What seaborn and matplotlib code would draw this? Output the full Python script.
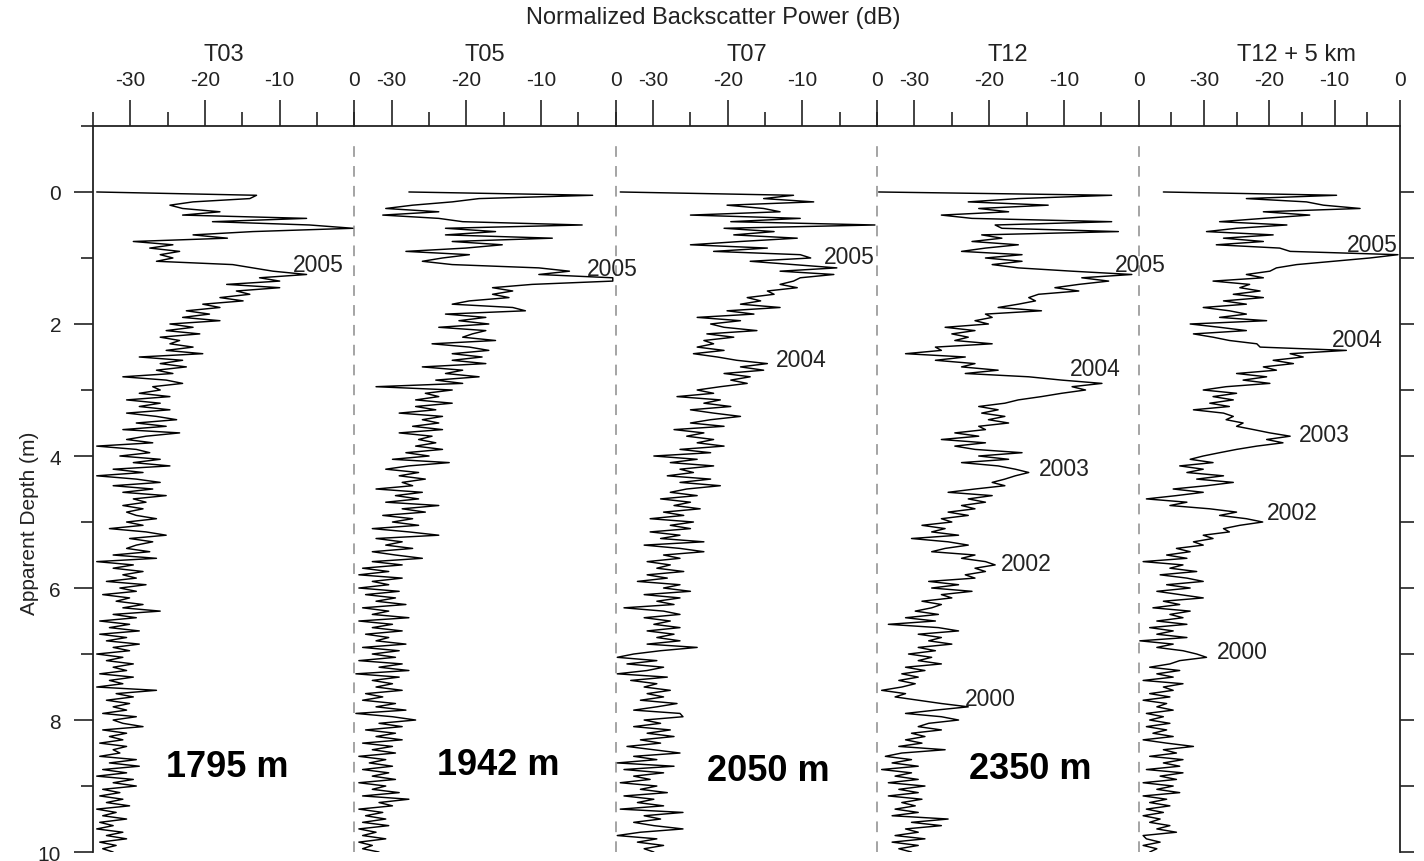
import numpy as np
import pandas as pd
import seaborn as sns
import matplotlib.pyplot as plt

sns.set_style("ticks")
plt.rcParams["font.family"] = ["Liberation Sans", "DejaVu Sans"]
plt.rcParams["axes.unicode_minus"] = False

# depth samples (m), shared by all five profiles
depth = np.round(np.arange(0, 10.001, 0.05), 2)

# normalized backscatter power (dB), one value per depth sample
t03 = [
    -34.5, -13.1, -14.0, -21.6, -24.7, -23.0, -18.0, -23.0, -6.4, -19.0, -6.0, -0.2, -13.6, -21.6, -17.0, -29.6, -24.3, -27.4, -23.4, -26.0,
    -24.3, -26.5, -16.3, -13.6, -10.9, -6.4, -12.7, -10.0, -17.1, -10.0, -15.8, -14.0, -18.0, -14.9, -20.3, -18.0, -22.5, -19.4, -23.0, -18.0,
    -24.7, -21.6, -25.2, -20.7, -26.0, -23.4, -24.7, -21.6, -25.2, -20.3, -28.8, -23.0, -26.0, -22.5, -26.5, -24.3, -31.0, -25.2, -23.0, -27.0,
    -26.0, -28.8, -24.7, -30.5, -26.0, -28.8, -24.7, -30.5, -26.5, -23.8, -29.2, -25.2, -31.0, -23.4, -27.9, -30.5, -27.0, -34.5, -29.2, -27.4,
    -31.4, -26.0, -29.6, -24.7, -32.3, -28.3, -34.5, -29.2, -26.0, -32.3, -27.0, -31.0, -25.2, -29.6, -27.9, -31.0, -28.3, -30.5, -29.2, -26.5,
    -30.5, -28.3, -32.8, -27.9, -25.2, -30.1, -27.0, -29.2, -30.5, -27.4, -32.3, -26.5, -34.5, -29.6, -32.3, -28.3, -31.0, -29.2, -33.2, -27.9,
    -31.4, -29.2, -33.7, -30.1, -31.9, -28.3, -31.0, -26.0, -32.3, -29.2, -34.1, -30.1, -32.8, -28.8, -34.1, -30.5, -33.2, -28.8, -32.3, -30.1,
    -34.5, -31.0, -33.2, -29.6, -32.3, -30.5, -34.1, -29.6, -32.8, -31.0, -34.5, -26.5, -31.9, -29.6, -33.2, -30.1, -32.3, -30.5, -33.7, -29.2,
    -32.3, -31.0, -28.3, -33.7, -30.5, -32.8, -31.0, -34.1, -30.5, -32.3, -31.4, -34.1, -29.2, -32.8, -28.8, -33.7, -30.5, -34.5, -29.6, -32.3,
    -29.2, -33.7, -31.4, -34.1, -31.0, -33.2, -30.1, -34.5, -31.9, -33.7, -30.5, -34.1, -32.3, -34.5, -31.0, -33.2, -30.5, -34.1, -31.9, -33.7, -32.3,
]
t05 = [
    -27.7, -3.1, -18.3, -21.9, -27.2, -30.8, -23.7, -31.2, -23.7, -20.5, -4.5, -22.8, -16.1, -22.8, -8.5, -21.9, -15.2, -20.1, -28.1, -19.6,
    -23.2, -25.9, -21.9, -10.3, -6.2, -10.3, -0.4, -0.4, -11.2, -16.5, -13.8, -16.5, -14.3, -19.6, -21.9, -13.8, -12.1, -22.8, -17.4, -21.0,
    -17.0, -23.7, -17.4, -19.2, -20.5, -16.1, -24.6, -19.6, -17.0, -21.9, -17.9, -21.9, -17.4, -25.9, -20.5, -22.8, -18.3, -24.1, -20.5, -32.1,
    -21.9, -25.5, -23.7, -26.8, -21.9, -26.8, -24.1, -29.0, -23.2, -25.9, -23.7, -27.2, -23.2, -29.0, -24.6, -26.4, -24.1, -26.8, -23.2, -28.1,
    -25.0, -29.9, -22.3, -27.7, -30.8, -26.4, -29.0, -25.5, -28.6, -27.2, -32.1, -25.9, -29.5, -26.4, -30.8, -23.7, -28.6, -25.5, -31.2, -27.2,
    -29.9, -26.4, -32.6, -27.7, -23.7, -32.1, -28.6, -30.8, -27.2, -32.6, -29.5, -25.9, -32.6, -28.6, -33.9, -30.4, -34.4, -28.6, -32.6, -30.4,
    -34.4, -29.0, -33.5, -29.5, -32.1, -28.1, -33.9, -30.4, -32.6, -27.7, -34.4, -29.9, -32.6, -28.6, -33.5, -30.4, -32.1, -28.1, -33.9, -29.0,
    -32.6, -29.5, -34.4, -28.6, -31.7, -27.7, -34.8, -29.0, -32.6, -29.9, -32.1, -28.6, -33.5, -31.2, -33.9, -29.5, -32.1, -28.1, -34.8, -29.9,
    -26.8, -31.7, -28.6, -33.5, -29.5, -32.1, -28.6, -33.9, -29.9, -32.6, -29.5, -34.4, -30.8, -33.0, -29.9, -33.9, -30.4, -32.6, -29.5, -34.4,
    -30.8, -32.6, -29.0, -33.9, -27.7, -31.7, -29.9, -34.4, -31.2, -33.5, -30.8, -33.9, -30.4, -34.4, -32.1, -33.9, -30.8, -34.4, -32.6, -33.9, -31.7,
]
t07 = [
    -34.4, -11.2, -15.2, -8.5, -20.1, -15.2, -13.0, -25.0, -10.3, -19.6, -0.3, -20.5, -13.8, -19.2, -10.7, -18.3, -25.0, -14.7, -21.9, -10.3,
    -8.9, -17.0, -11.2, -5.4, -13.0, -5.8, -10.3, -11.2, -13.0, -10.7, -14.7, -13.8, -17.4, -15.6, -18.3, -13.0, -20.1, -16.5, -24.1, -18.3,
    -22.3, -20.5, -16.1, -22.8, -19.2, -23.2, -21.9, -24.1, -20.5, -24.6, -21.4, -18.8, -14.7, -18.3, -15.2, -20.5, -17.0, -19.6, -17.4, -21.0,
    -24.1, -21.9, -26.8, -21.0, -23.2, -19.6, -25.0, -21.9, -18.3, -22.3, -25.0, -20.5, -27.2, -23.2, -25.5, -21.9, -24.1, -20.5, -26.4, -22.3,
    -29.9, -24.1, -27.7, -21.9, -26.4, -24.6, -28.1, -22.3, -26.4, -21.0, -25.5, -27.7, -24.1, -29.0, -25.0, -27.2, -23.7, -28.6, -25.9, -30.4,
    -24.6, -27.7, -25.0, -30.4, -26.4, -29.0, -23.2, -31.2, -26.4, -23.2, -28.6, -26.4, -30.8, -27.7, -29.5, -25.9, -30.8, -28.1, -32.1, -26.4,
    -28.6, -25.0, -31.2, -26.4, -29.5, -27.2, -33.9, -28.6, -26.4, -31.2, -27.7, -29.9, -26.4, -30.8, -27.2, -29.5, -26.4, -30.8, -24.1, -29.0,
    -32.6, -34.8, -29.5, -33.5, -28.6, -30.8, -34.8, -28.1, -33.0, -29.5, -31.2, -27.7, -30.8, -28.6, -31.7, -26.8, -29.5, -32.6, -26.4, -26.0,
    -31.2, -29.0, -32.6, -27.7, -30.8, -27.2, -31.7, -29.0, -33.5, -29.9, -26.4, -32.6, -29.5, -34.8, -27.2, -33.9, -28.6, -32.6, -30.4, -34.4,
    -29.5, -31.7, -28.1, -33.9, -29.9, -32.1, -28.6, -34.4, -26.0, -31.2, -29.0, -32.6, -29.9, -26.0, -31.7, -34.8, -29.5, -32.1, -28.6, -31.2, -29.9,
]
t12 = [
    -34.8, -3.6, -16.1, -22.8, -12.1, -21.4, -17.4, -26.4, -22.3, -3.6, -19.2, -18.3, -2.7, -21.0, -18.3, -22.3, -16.1, -20.5, -23.7, -15.6,
    -20.5, -15.6, -19.6, -16.1, -8.9, -0.9, -7.6, -4.0, -8.0, -11.2, -8.0, -13.4, -14.7, -13.8, -16.1, -18.8, -13.0, -20.5, -19.6, -21.9,
    -20.1, -25.9, -21.9, -25.0, -22.8, -24.6, -19.6, -27.2, -26.4, -31.2, -23.2, -27.2, -21.9, -23.7, -18.8, -23.2, -14.7, -10.3, -4.9, -8.9,
    -7.1, -10.3, -13.0, -16.1, -17.9, -21.4, -18.8, -21.0, -17.9, -20.1, -17.4, -21.4, -20.5, -24.6, -21.4, -26.4, -20.5, -24.6, -21.9, -15.6,
    -21.4, -17.4, -23.7, -18.8, -16.5, -14.7, -16.5, -17.9, -19.6, -17.9, -21.9, -25.5, -19.6, -22.8, -20.5, -23.7, -21.9, -25.5, -22.8, -26.4,
    -25.0, -29.0, -25.9, -27.7, -24.1, -30.4, -25.5, -22.8, -25.9, -27.7, -21.9, -23.7, -20.5, -19.2, -21.9, -20.5, -23.2, -21.9, -28.1, -24.1,
    -27.7, -22.3, -26.4, -25.0, -29.0, -26.4, -27.7, -29.9, -26.8, -31.2, -27.2, -33.5, -26.8, -24.1, -29.5, -26.4, -28.1, -25.0, -29.5, -27.2,
    -30.8, -27.7, -29.5, -26.4, -31.2, -28.6, -31.7, -29.5, -32.1, -29.9, -31.7, -34.4, -31.2, -32.6, -29.5, -26.4, -22.8, -27.2, -31.2, -26.4,
    -24.1, -28.1, -29.5, -26.4, -30.4, -28.6, -31.2, -29.0, -32.1, -25.9, -31.7, -33.9, -30.4, -33.0, -29.5, -34.4, -30.4, -32.6, -29.5, -33.5,
    -28.6, -32.1, -29.5, -33.5, -29.0, -31.7, -29.9, -32.6, -29.5, -33.0, -25.5, -30.4, -26.4, -31.2, -29.5, -32.6, -28.6, -33.0, -29.5, -32.1, -30.4,
]
t12_5km = [
    -36.2, -9.7, -23.5, -14.3, -11.7, -6.1, -20.9, -13.8, -20.9, -27.6, -17.3, -25.0, -29.6, -19.4, -27.0, -20.9, -28.1, -18.4, -16.8, -0.3,
    -4.6, -10.2, -15.8, -18.9, -19.9, -23.5, -20.9, -28.6, -23.0, -24.5, -21.4, -25.5, -20.9, -27.0, -23.5, -30.1, -26.1, -23.5, -27.6, -20.4,
    -32.1, -27.6, -23.5, -31.6, -28.6, -26.1, -21.9, -21.4, -8.2, -16.8, -14.8, -19.4, -16.3, -20.9, -18.9, -25.0, -20.4, -24.0, -19.9, -26.6,
    -30.1, -25.0, -28.6, -25.5, -29.1, -26.1, -31.6, -27.0, -25.5, -26.6, -24.0, -25.0, -22.4, -19.9, -16.8, -20.4, -17.9, -21.9, -25.0, -27.6,
    -30.1, -32.1, -28.6, -33.7, -30.1, -32.6, -27.0, -31.1, -25.5, -29.6, -34.7, -30.1, -34.2, -38.8, -32.6, -35.2, -29.1, -25.0, -27.6, -23.5,
    -21.0, -24.5, -27.0, -26.1, -30.1, -28.6, -31.6, -30.1, -34.2, -32.1, -35.7, -32.6, -39.3, -33.2, -35.2, -31.1, -36.7, -32.6, -30.1, -35.7,
    -32.1, -37.2, -33.7, -30.1, -36.2, -33.7, -37.8, -32.1, -35.2, -33.2, -37.2, -32.6, -38.3, -34.7, -37.2, -32.6, -39.8, -34.7, -37.2, -33.2,
    -31.1, -29.6, -33.7, -35.2, -38.3, -33.7, -37.2, -34.7, -39.3, -33.2, -36.2, -34.7, -38.3, -35.2, -39.3, -35.7, -37.2, -34.7, -38.8, -36.2,
    -38.3, -35.2, -38.8, -35.7, -37.8, -34.7, -39.3, -35.7, -31.6, -36.2, -34.2, -38.3, -33.2, -36.2, -33.7, -38.8, -33.2, -36.7, -34.2, -39.3,
    -34.7, -37.2, -33.7, -39.3, -35.7, -38.3, -35.2, -38.8, -36.2, -39.3, -36.7, -38.3, -35.2, -37.2, -34.2, -39.3, -38.8, -36.7, -39.3, -37.2, -38.3,
]

titles = ["T03", "T05", "T07", "T12", "T12 + 5 km"]
profiles = [t03, t05, t07, t12, t12_5km]
elevations = ["1795 m", "1942 m", "2050 m", "2350 m", None]
xmins = [-35, -35, -35, -35, -40]

# year annotations: (dB, depth, label) per panel
years = [
    [(-8.2, 1.10, "2005")],
    [(-3.9, 1.16, "2005")],
    [(-7.2, 0.97, "2005"), (-13.5, 2.54, "2004")],
    [(-3.2, 1.10, "2005"), (-9.2, 2.68, "2004"), (-13.3, 4.19, "2003"),
     (-18.4, 5.63, "2002"), (-23.3, 7.67, "2000")],
    [(-8.1, 0.80, "2005"), (-10.4, 2.23, "2004"), (-15.5, 3.68, "2003"),
     (-20.4, 4.86, "2002"), (-28.0, 6.96, "2000")],
]
elev_pos = [(-17.0, 8.71), (-15.7, 8.67), (-14.6, 8.76), (-14.5, 8.74)]

fig, axes = plt.subplots(1, 5, figsize=(14.24, 8.62), dpi=100)
plt.subplots_adjust(left=0.0653, right=0.9831, top=0.8527, bottom=0.0104, wspace=0)

for i, ax in enumerate(axes):
    ax.set_facecolor("none")
    df = pd.DataFrame({"power": profiles[i], "depth": depth})
    sns.lineplot(data=df, x="power", y="depth", ax=ax, color="black", lw=1.05,
                 sort=False, estimator=None, zorder=3)
    ax.set_xlim(xmins[i], 0)
    ax.set_ylim(10, -1)
    ax.set_xlabel("")
    ax.set_ylabel("")

    ax.xaxis.tick_top()
    ax.set_xticks([-30, -20, -10, 0])
    ax.set_xticklabels(["-30", "-20", "-10", "0"])
    ax.set_xticks([-35, -25, -15, -5], minor=True)
    ax.tick_params(axis="x", which="major", length=18.5, width=1.2, pad=8, labelsize=15, colors="#222")
    ax.tick_params(axis="x", which="minor", length=10, width=1.2, colors="#222")

    for s in ["bottom", "left", "right"]:
        ax.spines[s].set_visible(False)
    ax.spines["top"].set_linewidth(1.3)
    ax.spines["top"].set_color("#222")

    if i < 4:
        ax.axvline(0, ymax=0.985, color="0.55", lw=1.1, ls=(0, (7, 6)), clip_on=False)

    if i == 0:
        ax.spines["left"].set_visible(True)
        ax.spines["left"].set_linewidth(1.3)
        ax.spines["left"].set_color("#222")
        ax.set_yticks([0, 2, 4, 6, 8, 10])
        ax.set_yticklabels(["0", "2", "4", "6", "8", "10"])
        ax.set_yticks([-1, 1, 3, 5, 7, 9], minor=True)
        ax.tick_params(axis="y", which="major", length=14, width=1.2, pad=9, labelsize=15, colors="#222")
        ax.tick_params(axis="y", which="minor", length=9, width=1.2, colors="#222")
    elif i == 4:
        ax.spines["right"].set_visible(True)
        ax.spines["right"].set_linewidth(1.3)
        ax.spines["right"].set_color("#222")
        ax.yaxis.tick_right()
        ax.set_yticks(list(range(0, 11)))
        ax.tick_params(axis="y", which="major", length=10, width=1.2, labelright=False, colors="#222")
    else:
        ax.set_yticks([])

    tx = 0.605 if i == 4 else 0.5
    ax.text(tx, 1.099, titles[i], transform=ax.transAxes, ha="center", va="center",
            fontsize=17, color="#222")

    for xv, yv, lab in years[i]:
        ax.text(xv, yv, lab, ha="left", va="center", fontsize=16.5, color="#222",
                clip_on=False, zorder=5)

    if elevations[i]:
        ex, ey = elev_pos[i]
        ax.text(ex, ey, elevations[i], ha="center", va="center", fontsize=26,
                fontweight="bold", color="black")

fig.text(713 / 1424, 1 - 18 / 862, "Normalized Backscatter Power (dB)", ha="center", va="center",
         fontsize=17, color="#222")
fig.text(30 / 1424, 1 - 523 / 862, "Apparent Depth (m)", rotation=90, ha="center", va="center",
         fontsize=15, color="#222")

fig.savefig("out.png", dpi=100)
